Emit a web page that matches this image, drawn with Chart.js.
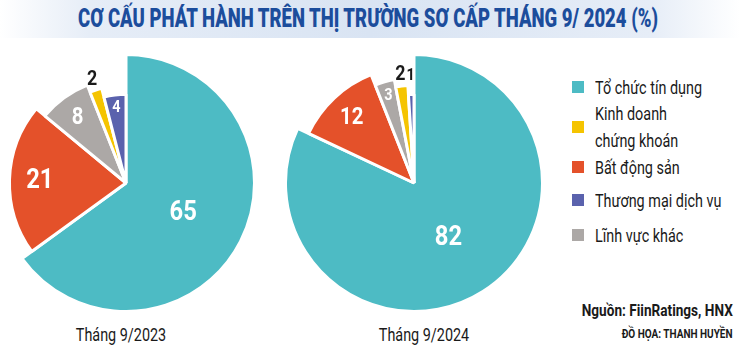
<!DOCTYPE html>
<html><head><meta charset="utf-8">
<script src="https://cdn.jsdelivr.net/npm/chart.js@4.4.1/dist/chart.umd.min.js"></script>
<style>
html,body{margin:0;padding:0;}
body{width:740px;height:357px;background:#fff;position:relative;overflow:hidden;font-family:Roboto,"Noto Sans",sans-serif;color:#1a1a1a;}
#titleBand{position:absolute;left:0;top:0;width:740px;height:38px;background:linear-gradient(to right,#ffffff 0%,#e6edf7 12%,#d9e4f3 50%,#e6edf7 88%,#ffffff 100%);}
#title{position:absolute;left:368px;top:18px;white-space:nowrap;font-weight:900;font-size:25px;color:#1c4d9c;transform-origin:center center;}
.pie{position:absolute;width:260px;height:260px;}
.cap{position:absolute;font-size:18px;white-space:nowrap;transform:translate(-50%,-50%) scaleX(0.8);color:#1a1a1a;}
.leg{position:absolute;left:572px;}
.sw{position:absolute;left:0;width:12px;height:12px;}
.lt{position:absolute;left:23px;font-size:18px;line-height:27px;white-space:nowrap;color:#1a1a1a;transform:scaleX(0.8);transform-origin:left center;}
.src{position:absolute;right:7px;font-weight:bold;white-space:nowrap;transform:translateY(-50%) scaleX(0.8);transform-origin:right center;color:#1a1a1a;}
</style></head>
<body>
<div id="titleBand"></div>
<div id="title">CƠ CẤU PHÁT HÀNH TRÊN THỊ TRƯỜNG SƠ CẤP THÁNG 9/ 2024 (%)</div>
<canvas id="c1" class="pie" width="260" height="260" style="left:-4px;top:53px"></canvas>
<canvas id="c2" class="pie" width="260" height="260" style="left:284px;top:53px"></canvas>
<div class="cap" id="cap1" style="left:121px;top:334px"></div>
<div class="cap" id="cap2" style="left:424px;top:334px"></div>
<div id="legend"></div>
<div class="src" style="top:310px;font-size:17px">Nguồn: FiinRatings, HNX</div>
<div class="src" style="top:333px;font-size:12.5px">ĐỒ HỌA: THANH HUYỀN</div>
<script>
// ---- data ----
const categories = ["Tổ chức tín dụng", "Kinh doanh chứng khoán", "Bất động sản", "Thương mại dịch vụ", "Lĩnh vực khác"];
const values2023 = [65, 2, 21, 4, 8];
const values2024 = [82, 2, 12, 1, 3];
const periodLabels = ["Tháng 9/2023", "Tháng 9/2024"];
// clockwise drawing order of categories, starting at 12 o'clock
const sliceOrder = [0, 2, 4, 1, 3];

// ---- styles ----
const colors = ["#4dbbc4", "#f5c400", "#e4512a", "#5a62ad", "#aca8a6"];
const radiusFactor = [1.0, 0.76, 0.907, 0.69, 0.82];
const legendCenters = [87, 126.5, 167, 200, 235];

document.getElementById('cap1').textContent = periodLabels[0];
document.getElementById('cap2').textContent = periodLabels[1];

// title fit
const t = document.getElementById('title');
const tw = t.getBoundingClientRect().width;
t.style.transform = `translate(-50%,-50%) scaleX(${580/tw})`;

// legend
const leg = document.getElementById('legend');
categories.forEach((c, i) => {
  const item = document.createElement('div');
  item.className = 'leg';
  item.style.top = legendCenters[i] + 'px';
  const sw = document.createElement('div');
  sw.className = 'sw'; sw.style.background = colors[i]; sw.style.top = '-6px';
  const lt = document.createElement('div');
  lt.className = 'lt';
  let text = c;
  if (c.length > 18) {
    const words = c.split(' '); const h = Math.ceil(words.length / 2);
    text = words.slice(0, h).join(' ') + '<br>' + words.slice(h).join(' ');
    lt.style.top = '-27px';
  } else lt.style.top = '-13.5px';
  lt.innerHTML = text;
  item.appendChild(sw); item.appendChild(lt);
  leg.appendChild(item);
});

const pieFont = 'Roboto, "Noto Sans", sans-serif';

const varRadius = {
  id: 'varRadius',
  afterDatasetsUpdate(chart) {
    const meta = chart.getDatasetMeta(0);
    const f = chart.options.plugins.varRadius.factors;
    meta.data.forEach((el, i) => { el.outerRadius = el.outerRadius * f[i]; });
  },
  afterDatasetsDraw(chart) {
    const meta = chart.getDatasetMeta(0);
    const vals = chart.data.datasets[0].data;
    const ctx = chart.ctx;
    ctx.save();
    ctx.textAlign = 'center';
    ctx.textBaseline = 'middle';
    meta.data.forEach((el, i) => {
      const v = vals[i];
      const mid = (el.startAngle + el.endAngle) / 2;
      let r, size, color = '#ffffff';
      if (v >= 50) { r = el.outerRadius * 0.5; size = 28; }
      else if (v >= 15) { r = el.outerRadius * 0.74; size = 28; }
      else if (v >= 5) { r = el.outerRadius * 0.78; size = 24; }
      else if (v >= 3) { r = el.outerRadius * 0.87; size = 17; }
      else { r = el.outerRadius + (v >= 2 ? 12 : 20); size = v >= 2 ? 21 : 17; color = '#1a1a1a'; }
      const x = el.x + Math.cos(mid) * r, y = el.y + Math.sin(mid) * r;
      ctx.save();
      ctx.translate(x, y);
      ctx.scale(0.85, 1);
      ctx.font = `bold ${size}px ${pieFont}`;
      ctx.fillStyle = color;
      ctx.fillText(String(v), 0, 1);
      ctx.restore();
    });
    ctx.restore();
  }
};

function makePie(id, values) {
  const data = sliceOrder.map(i => values[i]);
  return new Chart(document.getElementById(id), {
    type: 'pie',
    data: {
      labels: sliceOrder.map(i => categories[i]),
      datasets: [{
        data: data,
        backgroundColor: sliceOrder.map(i => colors[i]),
        borderColor: '#ffffff',
        borderWidth: 3,
        hoverOffset: 0
      }]
    },
    options: {
      responsive: false,
      animation: false,
      events: [],
      rotation: 0,
      layout: { padding: 0 },
      plugins: {
        legend: { display: false },
        tooltip: { enabled: false },
        varRadius: { factors: sliceOrder.map(i => radiusFactor[i]) }
      }
    },
    plugins: [varRadius]
  });
}
makePie('c1', values2023);
makePie('c2', values2024);
</script>
</body></html>
